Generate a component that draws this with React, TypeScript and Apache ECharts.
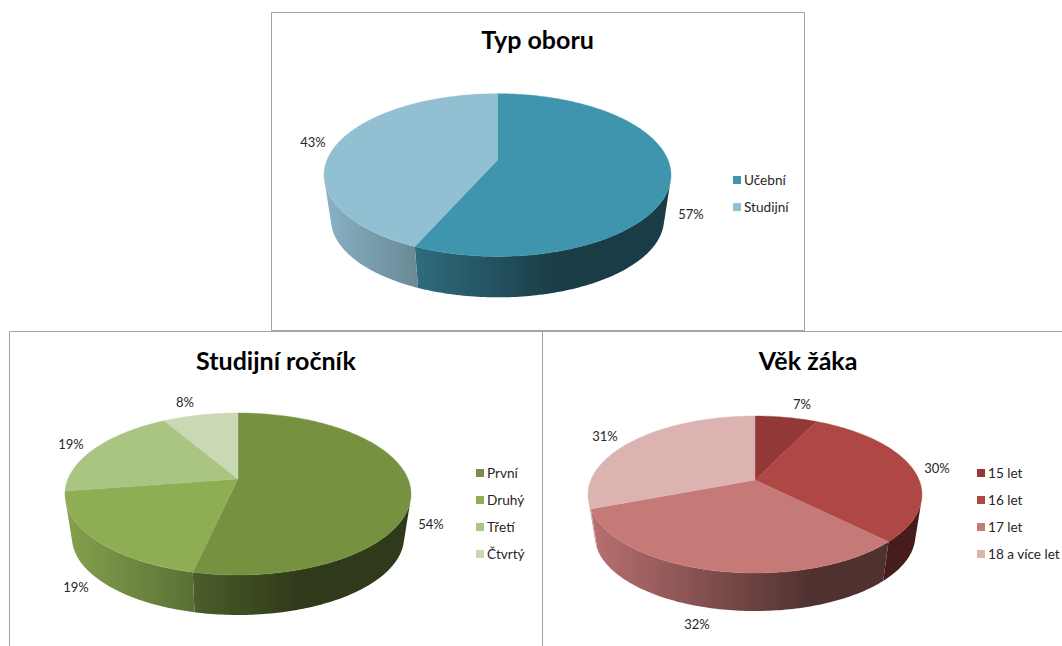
import React, { useEffect, useRef } from "react";
import * as echarts from "echarts";

const FONT = "Lato, Carlito, 'Open Sans', sans-serif";

const typeCategories = ["Učební", "Studijní"];
const typeValues = [56.6, 43.4];
const typeColors = ["#4095AE", "#93BFD2"];

const yearCategories = ["První", "Druhý", "Třetí", "Čtvrtý"];
const yearValues = [53.5, 19.1, 19, 8.4];
const yearColors = ["#769240", "#8FAE54", "#AAC482", "#CAD8B3"];

const ageCategories = ["15 let", "16 let", "17 let", "18 a více let"];
const ageValues = [7.2, 30.3, 31.7, 30.8];
const ageColors = ["#923937", "#AF4845", "#C67A78", "#DDB3B2"];

const PERSPECTIVE = 0.185;
const BASE_SCALE = 0.96;
const WALL_FROM = 105;
const WALL_TO = 255;

type Pie = {
  title: string;
  categories: string[];
  values: number[];
  colors: string[];
  cx: number; cy: number; rx: number; far: number; near: number; bottom: number;
  titleX: number; titleY: number; legendX: number; legendY: number;
  labels: number[][];
};

const pies: Pie[] = [
  { title: "Typ oboru", categories: typeCategories, values: typeValues, colors: typeColors,
    cx: 497.5, cy: 160, rx: 173.5, far: 67, near: 95, bottom: 296,
    titleX: 537.5, titleY: 26, legendX: 733, legendY: 172,
    labels: [[691, 214], [313, 142]] },
  { title: "Studijní ročník", categories: yearCategories, values: yearValues, colors: yearColors,
    cx: 238, cy: 479, rx: 173, far: 66, near: 96, bottom: 615,
    titleX: 276, titleY: 347, legendX: 476, legendY: 465,
    labels: [[431, 524], [76, 587], [71, 444], [185, 402]] },
  { title: "Věk žáka", categories: ageCategories, values: ageValues, colors: ageColors,
    cx: 755, cy: 480, rx: 167, far: 64, near: 93, bottom: 611,
    titleX: 808, titleY: 347, legendX: 977, legendY: 465,
    labels: [[802, 404], [937, 468], [697, 624], [605, 436]] },
];

function shade(hex: string, f: number) {
  const n = parseInt(hex.slice(1), 16);
  const c = [(n >> 16) & 255, (n >> 8) & 255, n & 255].map((v) => Math.round(v * f));
  return `rgb(${c[0]},${c[1]},${c[2]})`;
}

function rimPoint(pie: Pie, deg: number, scale: number, dy: number) {
  const t = (deg * Math.PI) / 180;
  const p = PERSPECTIVE;
  const b = (2 * pie.far * pie.near) / (pie.far + pie.near);
  const a = pie.rx * Math.sqrt(1 - p * p);
  const w = 1 + p * Math.cos(t);
  const x = (a * Math.sin(t)) / w;
  const y = (-b * Math.cos(t)) / w;
  return [pie.cx + scale * x, pie.cy + scale * y + dy];
}

function arc(pie: Pie, from: number, to: number, scale: number, dy: number) {
  const pts: number[][] = [];
  const steps = Math.max(2, Math.ceil(Math.abs(to - from)));
  for (let i = 0; i <= steps; i++) pts.push(rimPoint(pie, from + ((to - from) * i) / steps, scale, dy));
  return pts;
}

function sliceSeries(pie: Pie, index: number) {
  const total = pie.values.reduce((s, v) => s + v, 0);
  const before = pie.values.slice(0, index).reduce((s, v) => s + v, 0);
  const color = pie.colors[index];
  return {
    type: "custom",
    name: pie.categories[index],
    coordinateSystem: "none",
    silent: true,
    itemStyle: { color },
    data: [[pie.values[index]]],
    renderItem: (_: unknown, api: any) => {
      const value = api.value(0);
      const start = (before / total) * 360;
      const end = ((before + value) / total) * 360;
      const dy = pie.bottom - pie.cy - pie.near * BASE_SCALE;
      const children: any[] = [];
      const from = Math.max(start, WALL_FROM);
      const to = Math.min(end, WALL_TO);
      if (to > from) {
        const gradient = new echarts.graphic.LinearGradient(
          pie.cx - pie.rx, 0, pie.cx + pie.rx, 0,
          [
            { offset: 0, color: shade(color, 0.93) },
            { offset: 0.675, color: shade(color, 0.4) },
            { offset: 1, color: shade(color, 0.4) },
          ],
          true,
        );
        children.push({
          type: "polygon",
          shape: { points: [...arc(pie, from, to, 1, 0), ...arc(pie, to, from, BASE_SCALE, dy)] },
          style: { fill: gradient },
        });
      }
      children.push({
        type: "polygon",
        z2: 5,
        shape: { points: [[pie.cx, pie.cy], ...arc(pie, start, end, 1, 0)] },
        style: { fill: color, stroke: color, lineWidth: 0.4 },
      });
      const [lx, ly] = pie.labels[index];
      children.push({
        type: "text",
        z2: 10,
        x: lx,
        y: ly,
        style: {
          text: `${Math.round(value)}%`,
          fill: "#262626",
          font: `13px ${FONT}`,
          align: "center",
          verticalAlign: "middle",
        },
      });
      return { type: "group", children };
    },
  };
}

const FRAME = "#a3a3a3";

export default function App() {
  const ref = useRef<HTMLDivElement>(null);
  useEffect(() => {
    document.body.style.margin = "0";
    const chart = echarts.init(ref.current!, null, { renderer: "svg" });
    const line = (x1: number, y1: number, x2: number, y2: number) => ({
      type: "line", shape: { x1, y1, x2, y2 }, style: { stroke: FRAME, lineWidth: 1 },
    });
    chart.setOption({
      animation: false,
      backgroundColor: "#ffffff",
      title: pies.map((p) => ({
        text: p.title,
        left: p.titleX,
        top: p.titleY,
        padding: 0,
        textAlign: "center",
        textStyle: { fontFamily: FONT, fontSize: 25, fontWeight: "bold", color: "#000000" },
      })),
      legend: pies.map((p) => ({
        data: p.categories,
        orient: "vertical",
        left: p.legendX,
        top: p.legendY,
        icon: "rect",
        itemWidth: 8,
        itemHeight: 8,
        itemGap: 11,
        padding: 0,
        selectedMode: false,
        textStyle: { fontFamily: FONT, fontSize: 13.6, color: "#262626", padding: [0, 0, 0, -2], height: 16, lineHeight: 16 },
      })),
      graphic: [
        line(271.5, 12.5, 804.5, 12.5),
        line(271.5, 12.5, 271.5, 331.5),
        line(804.5, 12.5, 804.5, 331.5),
        line(271.5, 330.5, 804.5, 330.5),
        line(9.5, 331.5, 1062, 331.5),
        line(9.5, 331.5, 9.5, 646),
        line(542.5, 331.5, 542.5, 646),
      ],
      series: pies.flatMap((p) => p.categories.map((_, i) => sliceSeries(p, i))),
    });
    return () => chart.dispose();
  }, []);
  return <div ref={ref} style={{ width: 1062, height: 646 }} />;
}
